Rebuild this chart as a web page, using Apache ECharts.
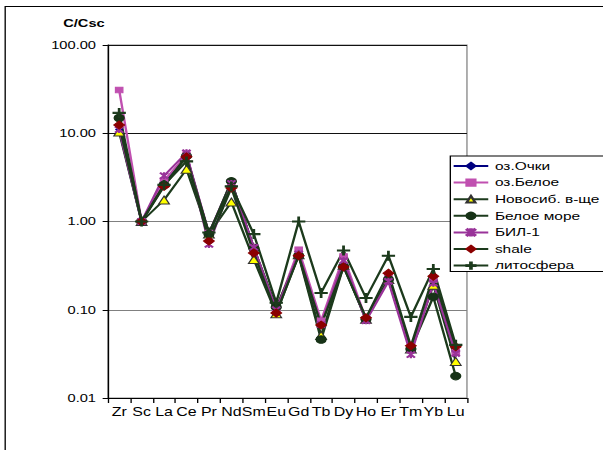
<!DOCTYPE html>
<html>
<head>
<meta charset="utf-8">
<style>
  html, body { margin: 0; padding: 0; background: #fff; overflow: hidden; }
  /* the chart is laid out narrow and stretched horizontally to fill the 603px frame */
  #chart { width: 453px; height: 450px; transform: scaleX(1.33113); transform-origin: 0 0; }
</style>
<script src="https://cdn.jsdelivr.net/npm/echarts@6/dist/echarts.min.js"></script>
</head>
<body>
<div id="chart"></div>
<script>
// Element abundances normalised to Sc (C/Csc)
const elements = ['Zr','Sc','La','Ce','Pr','Nd','Sm','Eu','Gd','Tb','Dy','Ho','Er','Tm','Yb','Lu'];

const ochki      = [11, 1, 2.8, 5.6, 0.72, 2.8, 0.50, 0.100, 0.42, 0.070, 0.33, 0.078, 0.22, 0.034, 0.21, 0.033];
const beloe      = [31, 1, 2.9, 5.7, 0.74, 2.8, 0.50, 0.100, 0.48, 0.075, 0.40, 0.078, 0.23, 0.036, 0.22, 0.033];
const novosib    = [10.3, 1, 1.75, 3.9, 0.72, 1.66, 0.37, 0.090, 0.42, 0.051, 0.32, 0.078, 0.22, 0.036, 0.19, 0.026];
const beloeMore  = [14.9, 1, 2.6, 5.5, 0.72, 2.85, 0.50, 0.107, 0.41, 0.046, 0.31, 0.078, 0.22, 0.036, 0.14, 0.0177];
const bil1       = [11, 1, 3.3, 6.0, 0.55, 2.7, 0.51, 0.100, 0.43, 0.068, 0.36, 0.075, 0.21, 0.031, 0.20, 0.032];
const shale      = [12.4, 1, 2.5, 5.4, 0.60, 2.4, 0.44, 0.092, 0.41, 0.067, 0.305, 0.081, 0.26, 0.039, 0.24, 0.038];
const lithosphere= [17, 1, 2.6, 4.8, 0.75, 2.5, 0.72, 0.120, 1.00, 0.155, 0.47, 0.136, 0.41, 0.083, 0.29, 0.040];

const yTicks = [0.01, 0.1, 1, 10, 100];

const plusPath = 'path://M0,4.4H10V5.6H0Z M4.4,0H5.6V10H4.4Z';
const starPath = 'path://M0,1L1,0L10,9L9,10Z M9,0L10,1L1,10L0,9Z M4.4,0H5.6V10H4.4Z';

const darkGreen = '#1c3a1c';
const font = 'Liberation Sans, Arial, sans-serif';

function line(name, data, color, symbol, size, markerFill, markerBorder) {
  return {
    name, type: 'line', data,
    symbol, symbolSize: size,
    lineStyle: { color, width: 1.8 },
    itemStyle: { color: markerFill, borderColor: markerBorder || markerFill, borderWidth: 1 },
    emphasis: { disabled: true },
    animation: false
  };
}

const chart = echarts.init(document.getElementById('chart'), null, { renderer: 'svg' });
chart.setOption({
  backgroundColor: '#fff',
  textStyle: { fontFamily: font },
  graphic: [
    { type: 'rect', shape: { x: 3.9, y: 6.5, width: 600, height: 600 },
      style: { fill: 'none', stroke: '#000', lineWidth: 1 }, silent: true },
    { type: 'text', left: 47.5, top: 18,
      style: { text: 'C/Csc', font: 'bold 11px ' + font, fill: '#000' } }
  ],
  grid: { left: 81.1, top: 45, width: 269.7, height: 353, show: true, borderColor: '#888', borderWidth: 1 },
  legend: {
    orient: 'vertical', left: 338.3, top: 156,
    backgroundColor: '#fff', borderColor: '#000', borderWidth: 1,
    padding: [4, 30, 0, 1.5],
    itemWidth: 26, itemHeight: 8, itemGap: 4.6,
    textStyle: { fontSize: 11.6, color: '#000', fontFamily: font },
    data: ['оз.Очки','оз.Белое','Новосиб. в-ще','Белое море','БИЛ-1','shale','литосфера']
  },
  xAxis: {
    type: 'category', data: elements, boundaryGap: true,
    axisLine: { lineStyle: { color: '#000', width: 1 } },
    axisTick: { show: true, length: 5, lineStyle: { color: '#000' } },
    axisLabel: { interval: 0, color: '#000', fontSize: 12, margin: 8 },
    splitLine: { show: false }
  },
  yAxis: {
    type: 'log', logBase: 10, min: yTicks[0], max: yTicks[yTicks.length - 1],
    axisLine: { show: true, lineStyle: { color: '#000', width: 1 } },
    axisTick: { show: true, length: 4, lineStyle: { color: '#000' } },
    axisLabel: { color: '#000', fontSize: 11, margin: 9, formatter: v => Number(v).toFixed(2) },
    splitLine: { show: true, lineStyle: { color: ['#000', '#808080', '#808080', '#111', '#111'], width: 1 } },
    minorTick: { show: false }
  },
  series: [
    line('оз.Очки', ochki, '#000080', 'diamond', 5, '#000080'),
    line('оз.Белое', beloe, '#c050b0', 'rect', 5.5, '#c050b0'),
    line('Новосиб. в-ще', novosib, darkGreen, 'triangle', 8, '#ffff00', '#333'),
    line('Белое море', beloeMore, darkGreen, 'circle', 7.5, '#173317'),
    line('БИЛ-1', bil1, '#993399', starPath, 6, '#993399'),
    line('shale', shale, darkGreen, 'diamond', 8, '#8b0000'),
    line('литосфера', lithosphere, darkGreen, plusPath, 9, darkGreen)
  ]
});
</script>
</body>
</html>
